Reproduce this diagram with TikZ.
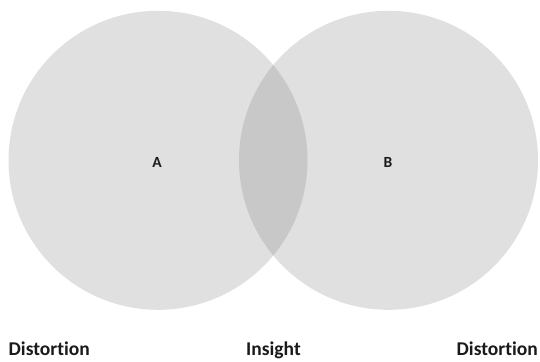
\documentclass[tikz,border=0pt]{standalone}
\usepackage{fontspec}
\setmainfont{Carlito}[Ligatures=NoCommon]
\usetikzlibrary{positioning}
\definecolor{circlegray}{HTML}{E0E0E0}
\definecolor{overlapgray}{HTML}{C8C8C8}
\definecolor{labelgray}{HTML}{1A1A1A}

\begin{document}
\begin{tikzpicture}[x=1pt, y=-1pt,
    setlabel/.style={text=labelgray, font=\fontsize{15.5}{18}\selectfont\bfseries},
    bottomlabel/.style={text=labelgray, font=\fontsize{19.5}{22}\selectfont\bfseries, anchor=base}]
    \useasboundingbox (0,0) rectangle (540,361);

    % Circle A and circle B
    \fill[circlegray] (158,160.3) circle (149.5);
    \fill[circlegray] (388.5,160.3) circle (149.5);

    % Overlap
    \begin{scope}
        \clip (158,160.3) circle (149.5);
        \fill[overlapgray] (388.5,160.3) circle (149.5);
    \end{scope}

    % Set names
    \node[setlabel] (a) at (157,162.5) {A};
    \node[setlabel] (b) at (388,162.5) {B};

    % Bottom labels
    \node[bottomlabel, anchor=base west, inner sep=0pt] (distleft) at (8.5,355.5) {Distortion};
    \node[bottomlabel, inner sep=0pt] (insight) at (273.5,355.5) {Insight};
    \node[bottomlabel, anchor=base east, inner sep=0pt] (distright) at (538,355.5) {Distortion};

\end{tikzpicture}
\end{document}
